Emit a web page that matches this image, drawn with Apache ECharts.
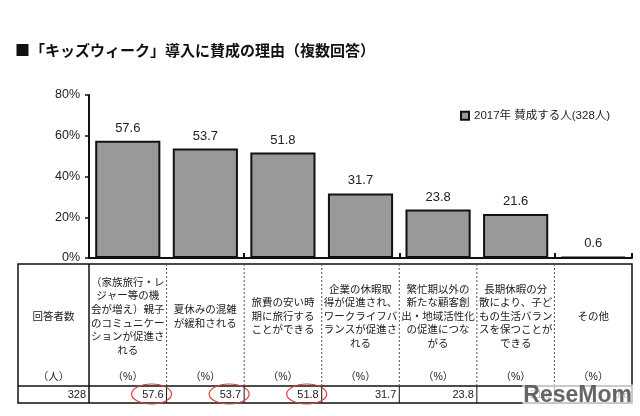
<!DOCTYPE html>
<html>
<head>
<meta charset="utf-8">
<script src="https://cdn.jsdelivr.net/npm/echarts@6/dist/echarts.min.js"></script>
<style>
  html, body { margin: 0; padding: 0; background: #fff; }
  #main { width: 640px; height: 416px; }
</style>
</head>
<body>
<div id="main"></div>
<script>
var titleText = "■「キッズウィーク」導入に賛成の理由（複数回答）";
var seriesName = "2017年 賛成する人(328人)";
var categories = [
  "（家族旅行・レ\nジャー等の機\n会が増え）親子\nのコミュニケー\nションが促進さ\nれる",
  "夏休みの混雑\nが緩和される",
  "旅費の安い時\n期に旅行する\nことができる",
  "企業の休暇取\n得が促進され、\nワークライフバ\nランスが促進さ\nれる",
  "繁忙期以外の\n新たな顧客創\n出・地域活性化\nの促進につな\nがる",
  "長期休暇の分\n散により、子ど\nもの生活バラン\nスを保つことが\nできる",
  "その他"
];
var values = [57.6, 53.7, 51.8, 31.7, 23.8, 21.6, 0.6];
var respondents = 328;
var circled = [0, 1, 2];

var FONT = "'Liberation Sans', 'Noto Sans CJK JP', sans-serif";
var JP = "'Noto Sans CJK JP', sans-serif";

var myChart = echarts.init(document.getElementById('main'));

var option = {
  backgroundColor: "#fff",
  animation: false,
  title: {
    text: titleText,
    left: 10,
    top: 38,
    textStyle: { fontSize: 15, fontWeight: "bold", color: "#111", fontFamily: JP }
  },
  legend: {
    data: [seriesName],
    left: 455,
    top: 105,
    icon: "rect",
    itemWidth: 8,
    itemHeight: 8,
    itemGap: 4,
    textStyle: { fontSize: 11.5, color: "#222", fontFamily: FONT }
  },
  grid: { left: 89, right: 8, top: 95, bottom: 158 },
  xAxis: {
    type: "category",
    data: categories,
    axisLine: { lineStyle: { color: "#111", width: 2 } },
    axisTick: { show: true, inside: true, length: 5, lineStyle: { color: "#111", width: 2 } },
    axisLabel: { show: false }
  },
  yAxis: {
    type: "value",
    min: 0,
    max: 80,
    interval: 20,
    axisLine: { show: true, lineStyle: { color: "#111", width: 2 } },
    axisTick: { show: true, length: 4, lineStyle: { color: "#111", width: 1.5 } },
    splitLine: { show: false },
    axisLabel: { formatter: "{value}%", fontSize: 12.5, color: "#222", margin: 9, fontFamily: FONT }
  },
  series: [
    {
      name: seriesName,
      type: "bar",
      barWidth: "84%",
      data: values,
      itemStyle: { color: "#999999", borderColor: "#111", borderWidth: 2 },
      label: {
        show: true,
        position: "top",
        distance: 6,
        fontSize: 13,
        color: "#222",
        fontFamily: FONT
      }
    }
  ]
};

myChart.setOption(option);

// table under the chart, aligned to the category axis
var c0 = myChart.convertToPixel({ xAxisIndex: 0 }, 0);
var c1 = myChart.convertToPixel({ xAxisIndex: 0 }, 1);
var band = c1 - c0;
var colLeft = c0 - band / 2;
var colRight = colLeft + band * categories.length;
var tLeft = 18, tTop = 264, tRow = 386, tBottom = 403;
var headY = 317, unitY = 377, valY = 395;

var g = [];
g.push({ type: "rect", shape: { x: tLeft, y: tTop, width: colRight - tLeft, height: tBottom - tTop },
  style: { fill: "none", stroke: "#111", lineWidth: 1.5 } });
g.push({ type: "line", shape: { x1: colLeft, y1: tTop, x2: colLeft, y2: tBottom },
  style: { stroke: "#111", lineWidth: 1.5 } });
g.push({ type: "line", shape: { x1: tLeft, y1: tRow, x2: colRight, y2: tRow },
  style: { stroke: "#111", lineWidth: 1.5 } });
for (var i = 1; i < categories.length; i++) {
  var bx = colLeft + band * i;
  g.push({ type: "line", shape: { x1: bx, y1: tTop, x2: bx, y2: tRow },
    style: { stroke: "#555", lineWidth: 1, lineDash: [2, 2] } });
  g.push({ type: "line", shape: { x1: bx, y1: tRow, x2: bx, y2: tBottom },
    style: { stroke: "#111", lineWidth: 1 } });
}
var txt = function (text, x, y, align, size) {
  return { type: "text", style: { text: text, x: x, y: y, align: align, verticalAlign: "middle",
    fontSize: size || 10.5, lineHeight: 13.6, fill: "#222", fontFamily: FONT } };
};
g.push(txt("回答者数", (tLeft + colLeft) / 2, headY, "center", 10.5));
g.push(txt("（人）", (tLeft + colLeft) / 2, unitY, "center", 10.5));
g.push(txt(String(respondents), colLeft - 3, valY, "right", 11));
for (var j = 0; j < categories.length; j++) {
  var cx = colLeft + band * (j + 0.5);
  var rx = colLeft + band * (j + 1);
  g.push(txt(categories[j], cx, headY, "center", 10.5));
  g.push(txt("（%）", cx, unitY, "center", 10.5));
  g.push(txt(values[j].toFixed(1), rx - 3, valY, "right", 11));
}
circled.forEach(function (k) {
  var ex = colLeft + band * (k + 1) - 15;
  g.push({ type: "ellipse", shape: { cx: ex, cy: valY - 1, rx: 20, ry: 10 },
    style: { fill: "none", stroke: "#d9403a", lineWidth: 1.2 } });
});
// watermark
g.push({ type: "text", style: { text: "ReseMom", x: 633, y: 396, align: "right", verticalAlign: "middle",
  fontSize: 23, fontWeight: "bold", fill: "rgba(85,85,85,0.9)", fontFamily: "'Liberation Sans', sans-serif",
  backgroundColor: "rgba(255,255,255,0.7)", padding: [0, 1] } });

myChart.setOption({ graphic: g });
</script>
</body>
</html>
